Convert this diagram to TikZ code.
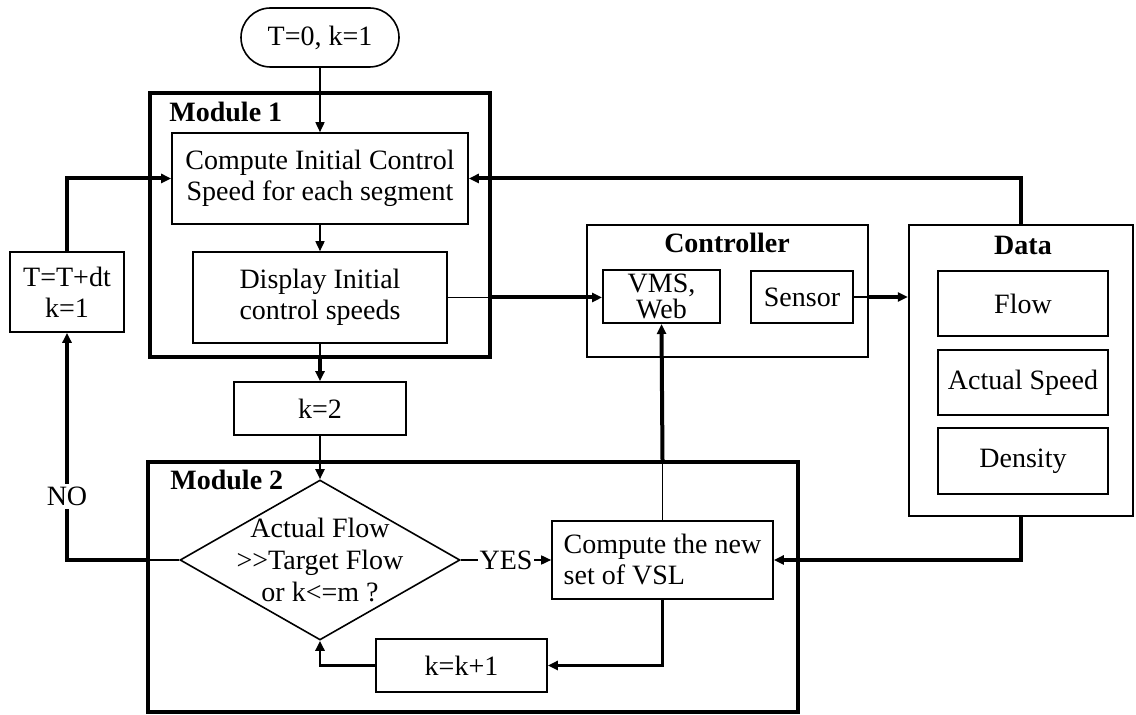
\documentclass[tikz,border=0pt]{standalone}
\usepackage{fontspec}
\setmainfont[Ligatures=NoCommon]{Liberation Serif}
\usetikzlibrary{arrows.meta,shapes.geometric,shapes.misc}
\begin{document}
\begin{tikzpicture}[x=0.5pt,y=-0.5pt,
  font=\fontsize{14}{15.5}\selectfont,
  box/.style={draw, line width=0.8pt, inner sep=0pt, align=center},
  module/.style={draw, line width=2pt, inner sep=0pt},
  panel/.style={draw, line width=1.1pt, inner sep=0pt},
  title/.style={font=\fontsize{14}{16}\selectfont\bfseries, inner sep=0pt},
  tip/.style={-{Triangle[length=5pt,width=4.5pt]}},
  thin/.style={line width=0.8pt},
  mid/.style={line width=1.4pt},
  thick/.style={line width=2pt}]
\useasboundingbox (0,0) rectangle (1136,715);

% ---- start terminal ----
\node[box, rounded rectangle, minimum width=79pt, minimum height=29.5pt] (start) at (320,37.5) {T=0, k=1};

% ---- Module 1 ----
\node[module, minimum width=170pt, minimum height=132pt] (mod1) at (320,225) {};
\node[title, anchor=west] (lab1) at (169,112) {Module 1};
\node[box, minimum width=148pt, minimum height=45.5pt] (comp1) at (320,178.5)
  {Compute Initial Control\\Speed for each segment};
\node[box, minimum width=127pt, minimum height=45.5pt] (disp) at (320,297.5)
  {Display Initial\\control speeds};

\node[box, minimum width=86pt, minimum height=26.5pt] (k2) at (320,408.5) {k=2};
\node[box, minimum width=57pt, minimum height=40pt] (tbox) at (67,292) {T=T+dt\\k=1};

% ---- Module 2 ----
\node[module, minimum width=325pt, minimum height=125pt] (mod2) at (473,587) {};
\node[title, anchor=west] (lab2) at (170,480) {Module 2};
\node[draw, thin, diamond, minimum width=140pt, minimum height=80pt, inner sep=0pt] (dec) at (320,560) {};
\node[align=center, inner sep=0pt, font=\fontsize{14}{16}\selectfont] (dectext) at (dec)
  {Actual Flow\\{>}{>}Target Flow\\or k<=m ?};
\node[box, align=left, minimum width=110.5pt, minimum height=39pt] (comp2) at (662.5,560)
  {Compute the new\\set of VSL};
\node[box, minimum width=85.5pt, minimum height=26.5pt] (kk1) at (461.5,665.5) {k=k+1};

% ---- Controller ----
\node[panel, line width=0.9pt, minimum width=140.5pt, minimum height=66pt] (ctrl) at (727.5,291) {};
\node[title] (labc) at (727,243) {Controller};
\node[box, line width=1pt, minimum width=58.5pt, minimum height=26.5pt, font=\fontsize{14}{11.5}\selectfont] (vms) at (661.5,296.5) {VMS,\\Web};
\node[box, minimum width=51pt, minimum height=26pt] (sensor) at (802,297) {Sensor};

% ---- Data ----
\node[panel, minimum width=112pt, minimum height=145.5pt] (data) at (1021,370.5) {};
\node[title] (labd) at (1023,245) {Data};
\node[box, minimum width=85pt, minimum height=32.5pt] (flow) at (1023,303.5) {Flow};
\node[box, minimum width=85pt, minimum height=32.5pt] (aspeed) at (1023,382.5) {Actual Speed};
\node[box, minimum width=85pt, minimum height=33pt] (dens) at (1023,461) {Density};

% ---- connectors ----
\draw[thin, tip] (start.south) -- (comp1.north);
\draw[thin, tip] (comp1.south) -- (disp.north);
\draw[thin] (disp.south) -- (disp.south |- mod1.south);
\draw[thick, tip] (disp.south |- mod1.south) -- (k2.north);
\draw[thin, line width=1pt, tip] (k2.south) -- (dec.north);

% NO branch back to the time step
\draw[thin] (dec.west) -- (dec.west -| mod2.west);
\draw[thick, tip] (dec.west -| mod2.west) -| node[pos=0.64, fill=white, inner sep=1.5pt] (no) {NO} (tbox.south);
\draw[thick, tip] (tbox.north) |- (comp1.west);

% to the controller and on to the data
\draw[thin] (disp.east) -- (disp.east -| mod1.east);
\draw[thick, tip] (disp.east -| mod1.east) -- (vms.west |- disp.east);
\draw[thin] (sensor.east) -- (sensor.east -| ctrl.east);
\draw[thick, tip] (sensor.east -| ctrl.east) -- (data.west |- sensor.east);

% data feedback
\draw[thick, tip] (data.north) |- (comp1.east);
\draw[thick, tip] (data.south) |- (comp2.east);

% Module 2 internals
\draw[thin, tip] (dec.east) -- node[fill=white, inner sep=1pt] (yes) {YES} (comp2.west);
\draw[thin] (comp2.north) -- (comp2.north |- mod2.north);
\draw[thick, tip] (comp2.north |- mod2.north) -- (vms.south);
\draw[mid, tip] (comp2.south) |- (kk1.east);
\draw[mid, tip] (kk1.west) -| (dec.south);
\end{tikzpicture}
\end{document}
